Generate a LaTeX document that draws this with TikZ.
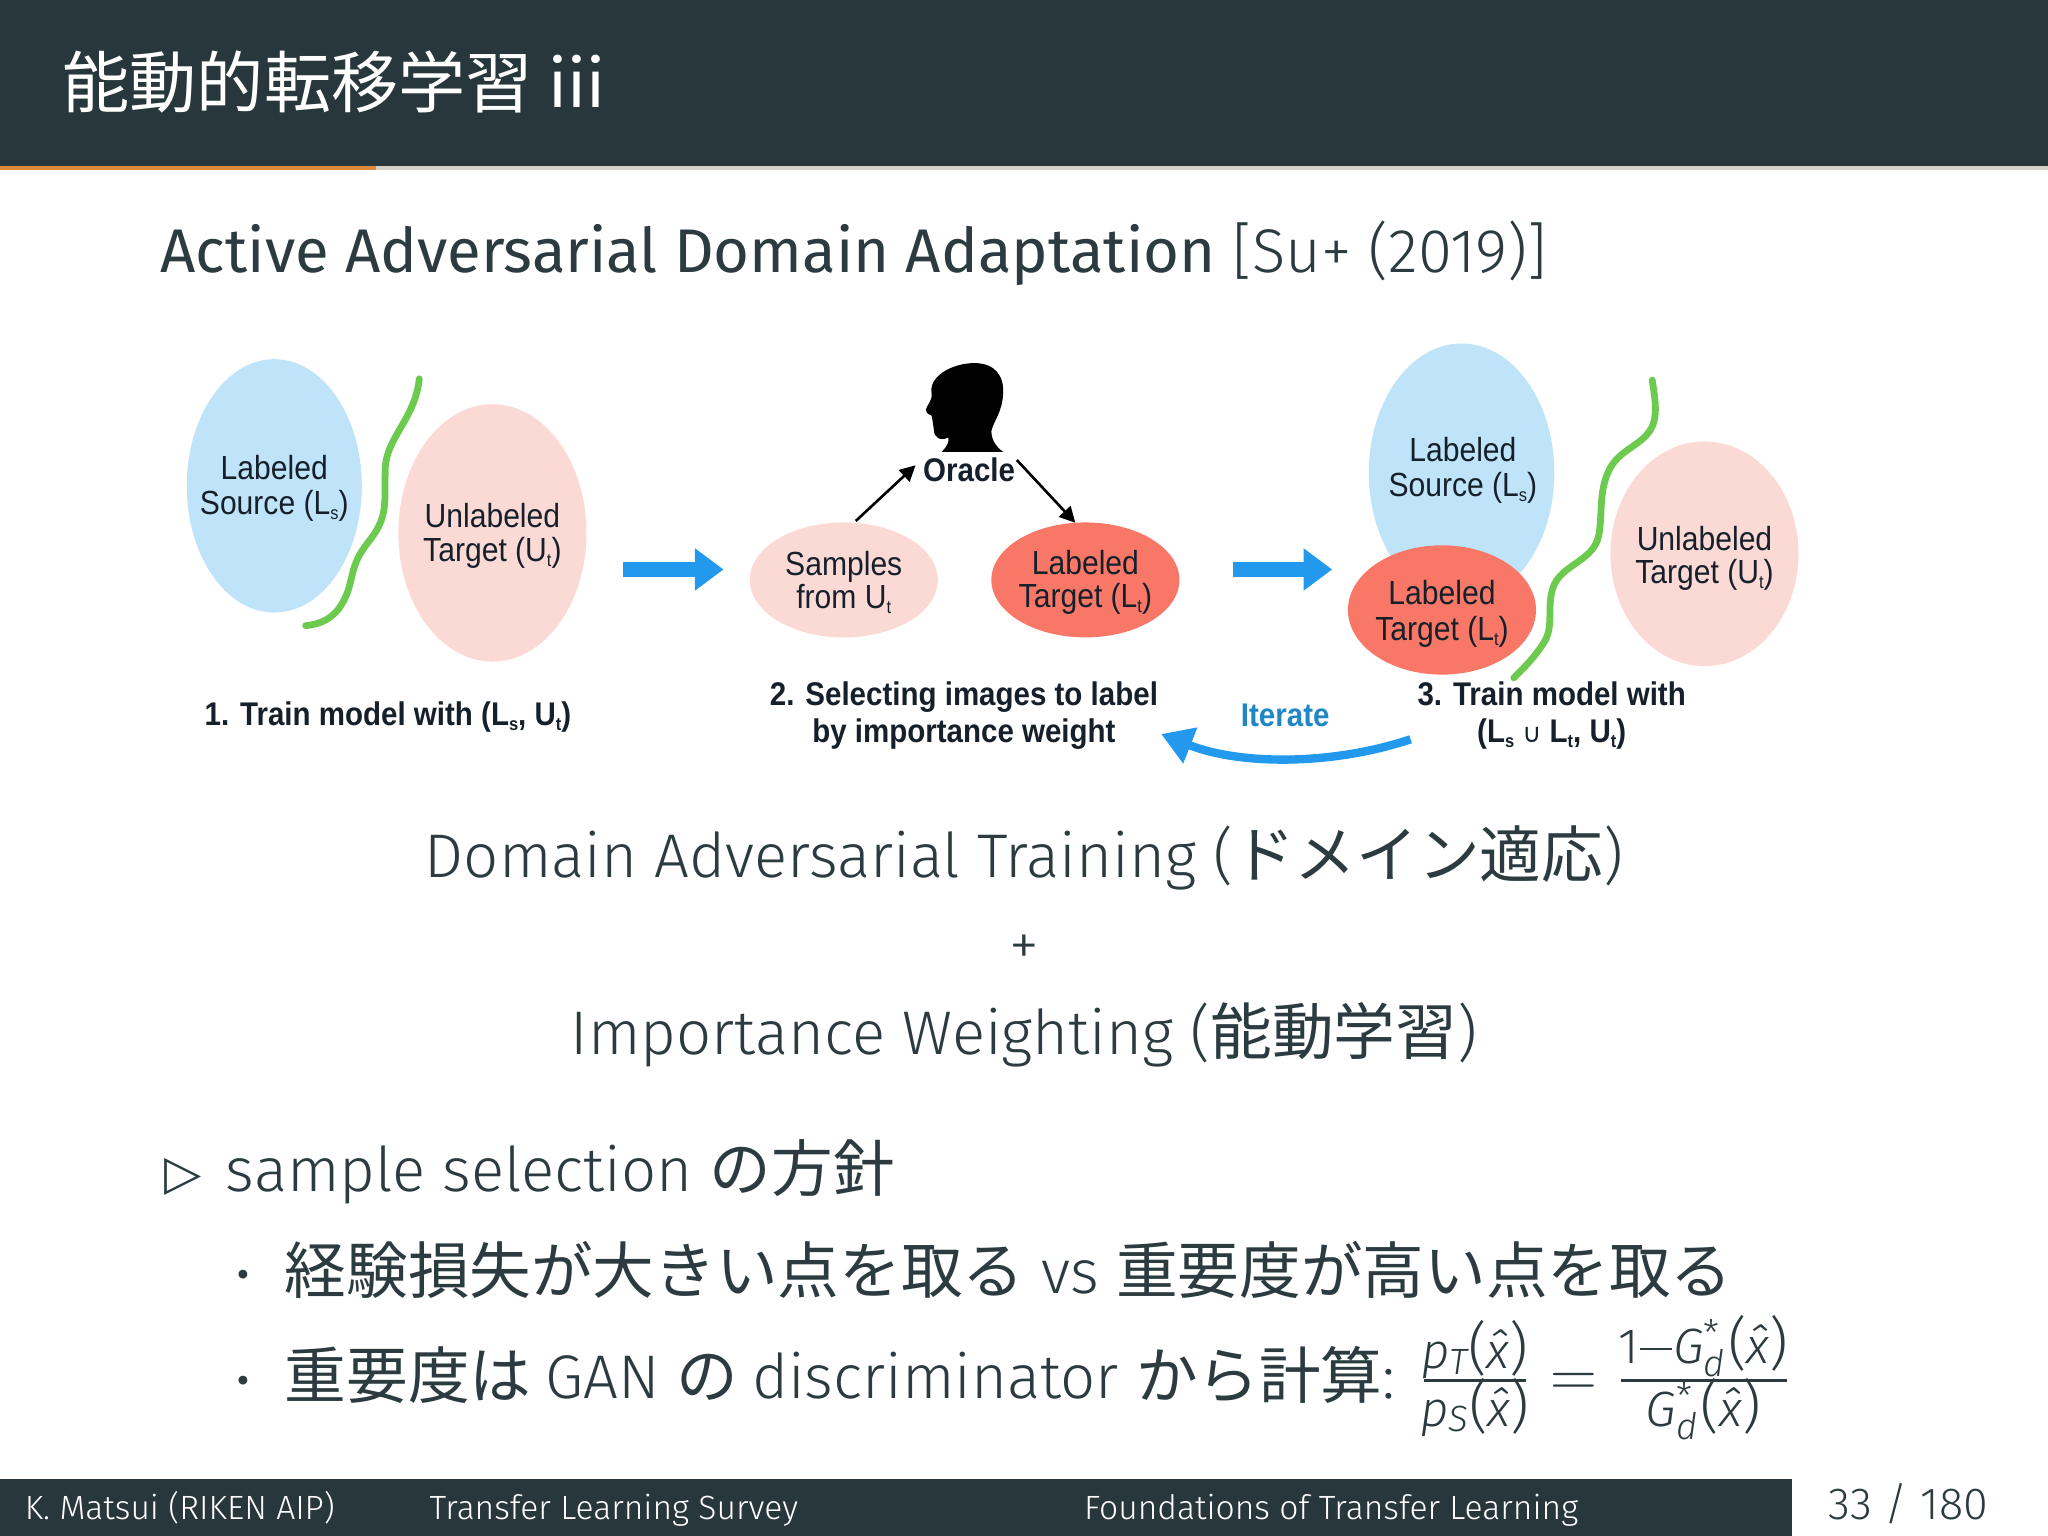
\documentclass[tikz,border=0pt]{standalone}
\usepackage{fontspec}
\usepackage{graphicx}
\setmainfont{Fira Sans Light}[ItalicFont={Fira Sans Light Italic},BoldFont={Fira Sans}]
\newfontfamily\cjk{Noto Sans CJK JP}
\newfontfamily\firareg{Fira Sans}
\newfontfamily\arial[FakeStretch=0.9]{Liberation Sans}
\newfontfamily\dejavu{DejaVu Sans}
\usetikzlibrary{shapes.geometric,arrows.meta,calc}
\definecolor{barcol}{HTML}{28373C}
\definecolor{txtcol}{HTML}{2B3B40}
\definecolor{orangebar}{HTML}{DE8A3A}
\definecolor{graybar}{HTML}{D4D1C6}
\definecolor{bluefill}{HTML}{BFE3F9}
\definecolor{pinkfill}{HTML}{FBD9D5}
\definecolor{redfill}{HTML}{F97767}
\definecolor{greenline}{HTML}{6CCB4E}
\definecolor{bluearrow}{HTML}{2299EC}
\definecolor{iterblue}{HTML}{2186C6}
\definecolor{figtxt}{HTML}{16202B}
\newcommand{\fs}[1]{\fontsize{#1}{#1}\selectfont}
\newcommand{\lsb}[1]{\raisebox{-0.28ex}{\fontsize{7}{7}\selectfont #1}}
\tikzset{
  every node/.style={inner sep=0pt,outer sep=0pt,text=txtcol},
  region/.style={ellipse},
  regtext/.style={align=center,font=\arial\fs{12.8},text=figtxt},
  figlabel/.style={align=center,font=\arial\bfseries\fs{12.55},text=figtxt},
  bigarrow/.style={bluearrow,line width=6pt,-{Triangle[width=15.5pt,length=11pt]}},
  sepline/.style={greenline,line width=2.6pt,line cap=round},
  thinarrow/.style={black,line width=1pt,-{Triangle[width=6pt,length=6pt]}},
  slidetext/.style={anchor=base west,font=\fs{23.6}},
  midtext/.style={anchor=base,font=\fs{23.6}},
  foot/.style={anchor=base west,text=white,font=\fs{12.87}},
  mathpart/.style={anchor=base,font=\fs{19}},
}
\begin{document}
\begin{tikzpicture}[x=0.5pt,y=-0.5pt]
\useasboundingbox (0,0) rectangle (1568,1176);
\fill[white] (0,0) rectangle (1568,1176);
% header
\fill[barcol] (0,0) rectangle (1568,127);
\fill[graybar] (0,127) rectangle (1568,130);
\fill[orangebar] (0,127) rectangle (288,130);
\node[anchor=base west,text=white,font=\fs{25.7}] (title) at (48,82) {{\cjk 能動的転移学習} {\firareg\kern-1pt iii}};
% subtitle
\node[anchor=base west,font=\fs{23.6}] (subtitle) at (123,209) {{\firareg Active Adversarial Domain Adaptation} [Su+ (2019)]};
% panel 1
\node[region,fill=bluefill,minimum width=67pt,minimum height=97pt] (srcA) at (210,372) {};
\node[regtext] (srcAt) at (210,374) {Labeled\\[0.7pt]Source (L\lsb{s})};
\node[region,fill=pinkfill,minimum width=72pt,minimum height=98.5pt] (tgtA) at (377,408) {};
\node[regtext] (tgtAt) at (377,410.5) {Unlabeled\\[0.2pt]Target (U\lsb{t})};
\coordinate (gA1) at (321,290);
\coordinate (gA2) at (234,479);
\draw[sepline] (gA1) .. controls (318,320) and (296,335) .. (295,358) .. controls (294,385) and (298,395) .. (282,415) .. controls (266,435) and (272,445) .. (262,462) .. controls (255,474) and (245,478) .. (gA2);
\node[figlabel] (capA) at (297,549) {1. Train model with (L\lsb{s}, U\lsb{t})};
\coordinate (arA1) at (477,436);
\coordinate (arA2) at (554,436);
\draw[bigarrow] (arA1) -- (arA2);
% panel 2
\node[region,fill=pinkfill,minimum width=72pt,minimum height=44pt] (samples) at (646,444) {};
\node[regtext] (samplest) at (646,446) {Samples\\[-0.3pt]from U\lsb{t}};
\node[region,fill=redfill,minimum width=72pt,minimum height=44pt] (labeled) at (831,444) {};
\node[regtext] (labeledt) at (831,446) {Labeled\\[-0.3pt]Target (L\lsb{t})};
\node[font=\arial\bfseries\fs{12.55},text=figtxt] (oracle) at (742,360) {Oracle};
\fill[black] (746,278) .. controls (762,278) and (769,288) .. (768,302)
  .. controls (767,316) and (761,322) .. (759,330)
  .. controls (759,338) and (764,343) .. (768,346)
  -- (721,346) .. controls (725,342) and (727,338) .. (726,335)
  .. controls (720,338) and (715,335) .. (715,329)
  .. controls (714,323) and (714,320) .. (713,318)
  .. controls (709,317) and (708,314) .. (710,311)
  .. controls (713,306) and (714,304) .. (713,299)
  .. controls (713,287) and (730,278) .. (746,278) -- cycle;
\draw[thinarrow,shorten >=4pt,shorten <=1pt] (samples.80) -- (oracle.north west);
\draw[thinarrow,shorten <=1pt] (oracle.north east) -- (labeled.100);
\node[figlabel] (capB) at (738,548) {2. Selecting images to label\\[1.45pt]by importance weight};
\coordinate (arB1) at (944,436);
\coordinate (arB2) at (1020,436);
\draw[bigarrow] (arB1) -- (arB2);
% panel 3
\node[region,fill=bluefill,minimum width=71pt,minimum height=99pt] (srcC) at (1119,362) {};
\node[regtext] (srcCt) at (1120,360) {Labeled\\[0.7pt]Source (L\lsb{s})};
\node[region,fill=redfill,minimum width=72pt,minimum height=49.5pt] (ltC) at (1104,467) {};
\node[regtext] (ltCt) at (1104,470) {Labeled\\[0.7pt]Target (L\lsb{t})};
\node[region,fill=pinkfill,minimum width=72pt,minimum height=86pt] (tgtC) at (1305,424) {};
\node[regtext] (tgtCt) at (1305,427.5) {Unlabeled\\[0.2pt]Target (U\lsb{t})};
\coordinate (gC1) at (1265,291);
\coordinate (gC2) at (1159,519);
\draw[sepline] (gC1) .. controls (1267,305) and (1270,320) .. (1263,330) .. controls (1255,342) and (1238,345) .. (1231,362) .. controls (1224,378) and (1227,395) .. (1224,410) .. controls (1220,430) and (1195,432) .. (1189,450) .. controls (1184,465) and (1190,480) .. (1182,492) .. controls (1175,503) and (1168,510) .. (gC2);
\node[figlabel] (capC) at (1188,548) {3. Train model with\\[1.45pt](L\lsb{s} {\normalfont\dejavu\fs{10}∪} L\lsb{t}, U\lsb{t})};
\node[font=\arial\bfseries\fs{12.55},text=iterblue] (iter) at (984,548) {Iterate};
\coordinate (itS) at (1080,566);
\coordinate (itE) at (889,562);
\draw[bluearrow,line width=3.2pt,-{Triangle[width=14pt,length=12pt]}] (itS) .. controls (1020,586) and (950,586) .. (itE);
% central lines
\node[midtext] (dat) at (784,672) {Domain Adversarial Training ({\cjk ドメイン適応})};
\node[anchor=base,font=\fs{23}] (plus) at (784,739) {+};
\node[midtext] (iw) at (784,807) {Importance Weighting ({\cjk 能動学習})};
% bullets
\node[anchor=base west,font=\dejavu\fs{18.5}] (b0) at (126,911) {▷};
\node[slidetext] (l0) at (173,912) {sample selection {\cjk の方針}};
\node[anchor=base,font=\cjk\fs{16}] (b1) at (186,988) {・};
\node[slidetext] (l1) at (218,990) {{\cjk 経験損失が大きい点を取る} vs {\cjk 重要度が高い点を取る}};
\node[anchor=base,font=\cjk\fs{16}] (b2) at (186,1069) {・};
\node[slidetext] (l2) at (218,1071) {{\cjk 重要度は}\kern-1.3pt{} GAN {\cjk の}\kern-1.3pt{} discriminator {\cjk から計算}:};
% formula
\newcommand{\xh}{{\itshape\^x}}
\newcommand{\bp}[1]{{\fs{22}#1}}
\newcommand{\starsub}{\rlap{\raisebox{0.65ex}{\fs{14}*}}\raisebox{-0.5ex}{\fs{14}\itshape d}\kern1.3pt}
\node[mathpart] (n1) at (1129,1048) {{\itshape p}\raisebox{-0.2ex}{\fs{14}\itshape T}\kern0.3pt\bp{(}\xh\bp{)}};
\node[mathpart] (d1) at (1129,1092) {{\itshape p}\raisebox{-0.2ex}{\fs{14}\itshape S}\kern0.3pt\bp{(}\xh\bp{)}};
\coordinate (r1a) at (1090,1057);
\coordinate (r1b) at (1168,1057);
\draw[txtcol,line width=0.9pt] (r1a) -- (r1b);
\node[anchor=base,font=\fs{24}] (eq) at (1205,1069) {$=$};
\node[mathpart] (n2) at (1304,1044) {1\kern0.6pt\rule[0.28em]{12pt}{0.7pt}\kern0.6pt{\itshape G}\starsub\bp{(}\xh\bp{)}};
\node[mathpart] (d2) at (1304,1092) {{\itshape G}\starsub\bp{(}\xh\bp{)}};
\coordinate (r2a) at (1241,1057);
\coordinate (r2b) at (1368,1057);
\draw[txtcol,line width=0.9pt] (r2a) -- (r2b);
% footer
\fill[barcol] (0,1132) rectangle (1372,1176);
\node[foot] (f1) at (19,1163) {K. Matsui (RIKEN AIP)};
\node[foot] (f2) at (329,1163) {Transfer Learning Survey};
\node[foot] (f3) at (830,1163) {Foundations of Transfer Learning};
\node[anchor=base east,font=\fs{17.2}] (pg) at (1522,1163) {33 / 180};
\end{tikzpicture}
\end{document}
